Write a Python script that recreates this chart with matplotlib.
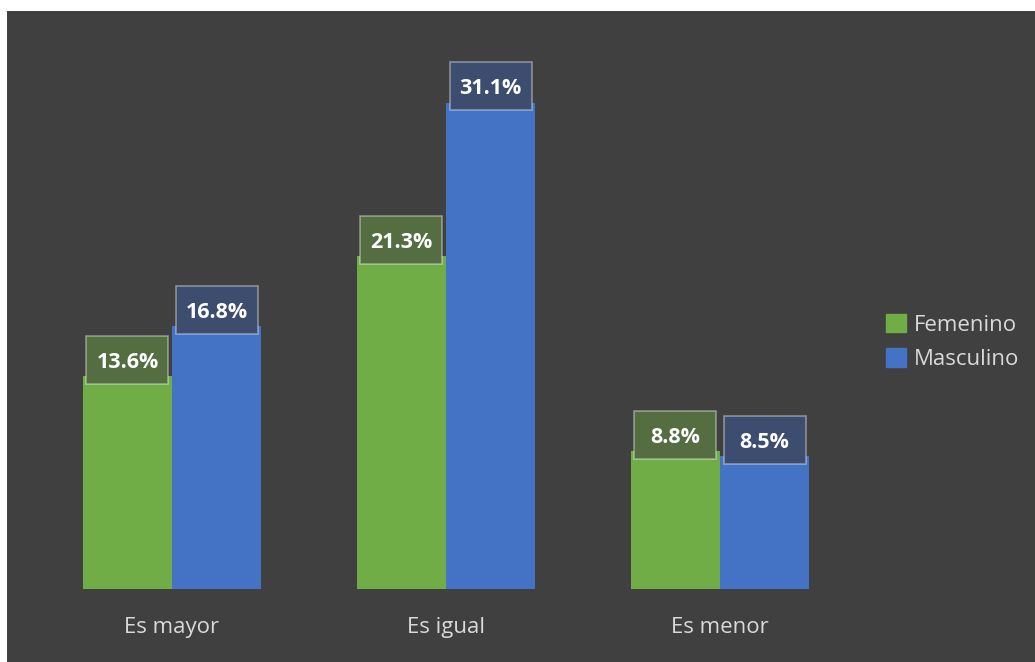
import numpy as np
import matplotlib
matplotlib.use("Agg")
import matplotlib.pyplot as plt
from matplotlib.patches import Rectangle, Patch

plt.rcParams['font.family'] = ['Open Sans', 'DejaVu Sans']

categorias = ["Es mayor", "Es igual", "Es menor"]
femenino = [13.6, 21.3, 8.8]
masculino = [16.8, 31.1, 8.5]
series = ["Femenino", "Masculino"]

verde = "#70AD47"
azul = "#4472C4"
fondo = "#404040"
gris = "#D9D9D9"

W, H = 1035, 662
fig = plt.figure(figsize=(W / 100, H / 100), dpi=100, facecolor="white")
# panel oscuro del grafico
fig.patches.append(Rectangle((7 / W, 0), 1 - 7 / W, 1 - 11 / H, transform=fig.transFigure,
                             facecolor=fondo, edgecolor="none", zorder=-5))

ax = fig.add_axes([35 / W, 73 / H, 822 / W, 547 / H])
ax.set_facecolor("none")
x = np.arange(len(categorias))
bw = 0.325
ax.bar(x - bw / 2, femenino, bw, color=verde, label=series[0])
ax.bar(x + bw / 2, masculino, bw, color=azul, label=series[1])
ax.set_xlim(-0.5, 2.5)
ax.set_ylim(0, 35)

# etiquetas de datos con caja
pxu = 547 / 35
bx_w = 82 / 274
bx_h = 48 / pxu
fills = {verde: (0.33, 0.43, 0.26, 1.0), azul: (0.24, 0.30, 0.44, 1.0)}
for vals, off, col in [(femenino, -bw / 2, verde), (masculino, bw / 2, azul)]:
    for xi, v in zip(x, vals):
        cy = v + 16.5 / pxu
        ax.add_patch(Rectangle((xi + off - bx_w / 2, cy - bx_h / 2), bx_w, bx_h,
                               facecolor=fills[col], edgecolor=(1, 1, 1, 0.4),
                               linewidth=1.2, zorder=3))
        ax.text(xi + off, v + 14 / pxu, f"{v:.1f}%", ha="center", va="center",
                color="white", fontsize=15.5, fontweight="bold", zorder=4)

for s in ax.spines.values():
    s.set_visible(False)
ax.set_yticks([])
ax.set_xticks(x, categorias)
ax.tick_params(axis="x", length=0, pad=20, labelsize=16, labelcolor=gris)

handles = [Patch(color=verde), Patch(color=azul)]
fig.legend(handles, series, loc="center left", bbox_to_anchor=(866 / W, 1 - 342 / H),
           frameon=False, fontsize=16, labelcolor=gris, handlelength=0.9,
           handleheight=0.9, handletextpad=0.35, labelspacing=0.55)

fig.savefig("out.png", dpi=100, facecolor="white")
